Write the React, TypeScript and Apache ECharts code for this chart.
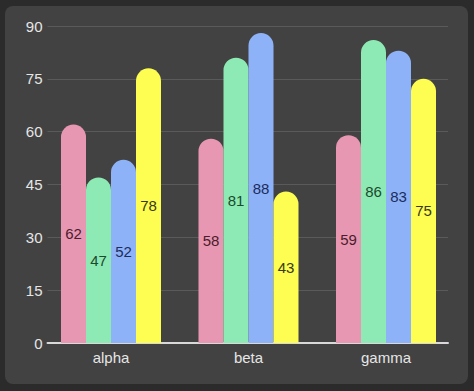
import React, { useEffect, useRef } from "react";
import * as echarts from "echarts";

const categories = ["alpha", "beta", "gamma"];
const seriesNames = ["s1", "s2", "s3", "s4"];
const seriesValues = [
  [62, 58, 59],
  [47, 81, 86],
  [52, 88, 83],
  [78, 43, 75],
];
const barColors = ["#e897b3", "#8eeab4", "#8eb2f8", "#fdfd52"];
const labelColors = ["#4a1c2c", "#1b4a2e", "#1c2d5c", "#3a3a12"];

export default function App() {
  const ref = useRef<HTMLDivElement>(null);
  useEffect(() => {
    if (!ref.current) return;
    const chart = echarts.init(ref.current, null, { renderer: "svg" });
    const font = "'Liberation Sans', Roboto, sans-serif";
    chart.setOption({
      animation: false,
      backgroundColor: "#2b2b2b",
      graphic: [
        {
          type: "rect",
          left: 5,
          top: 6,
          shape: { width: 463, height: 378, r: 8 },
          style: { fill: "#424242" },
          z: -10,
          silent: true,
        },
      ],
      grid: [
        { left: 42.25, right: 19.25, top: 26, bottom: 48 },
        { left: 47.5, right: 26, top: 26, bottom: 48 },
      ],
      xAxis: [
        {
          type: "category",
          gridIndex: 0,
          data: categories,
          axisLine: { show: false },
          axisTick: { show: false },
          axisLabel: { color: "#e6e6e6", fontSize: 15, fontFamily: font, margin: 7 },
          splitLine: { show: false },
        },
        {
          type: "value",
          gridIndex: 1,
          min: 0,
          max: 1,
          axisLine: { show: true, lineStyle: { color: "#d9d9d9", width: 2 } },
          axisTick: { show: false },
          axisLabel: { show: false },
          splitLine: { show: false },
        },
      ],
      yAxis: [
        {
          type: "value",
          gridIndex: 0,
          min: 0,
          max: 90,
          show: false,
          splitLine: { show: false },
        },
        {
          type: "value",
          gridIndex: 1,
          min: 0,
          max: 90,
          interval: 15,
          axisLine: { show: false },
          axisTick: { show: false },
          axisLabel: { color: "#e6e6e6", fontSize: 15, fontFamily: font, margin: 5 },
          splitLine: { show: true, lineStyle: { color: "#5a5a5a", width: 1 } },
        },
      ],
      series: seriesNames.map((name, i) => ({
        name,
        type: "bar",
        xAxisIndex: 0,
        yAxisIndex: 0,
        data: seriesValues[i],
        barWidth: 25,
        barGap: "0%",
        z: 3,
        itemStyle: { color: barColors[i], borderRadius: [12.5, 12.5, 0, 0] },
        label: {
          show: true,
          position: "inside",
          color: labelColors[i],
          fontSize: 15,
          fontFamily: font,
        },
      })),
    });
    return () => chart.dispose();
  }, []);
  return (
    <div
      ref={ref}
      style={{ position: "fixed", left: 0, top: 0, width: 474, height: 391 }}
    />
  );
}
